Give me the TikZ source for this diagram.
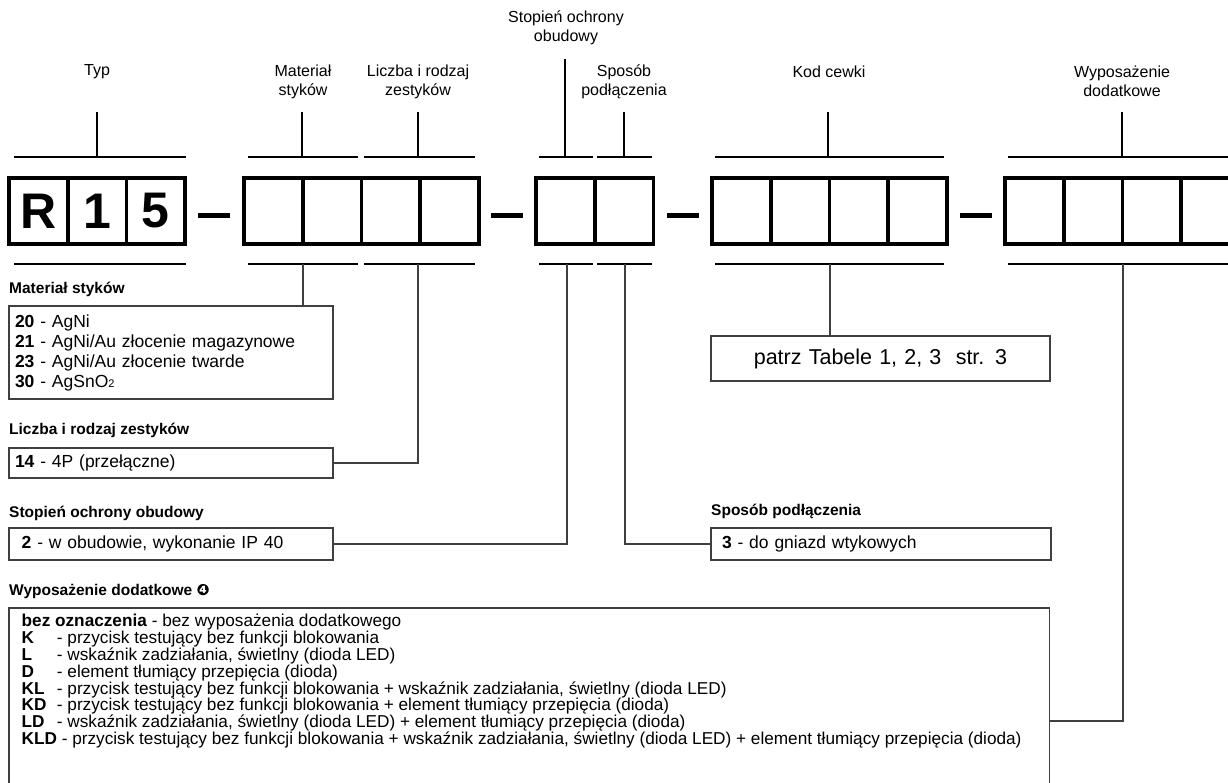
\documentclass[tikz,border=0pt]{standalone}
\usepackage{fontspec}
\setmainfont{Liberation Sans}
\newfontfamily\symfont{DejaVu Sans}
\usetikzlibrary{positioning}
\definecolor{darkline}{RGB}{64,64,64}
\newcommand{\optkey}[1]{\makebox[2.05em][l]{\textbf{#1}}}
\tikzset{
	toplab/.style={align=center,inner sep=0pt,font=\fontsize{16}{19}\selectfont},
	cell/.style={draw,line width=3.8pt,minimum width=58.7pt,minimum height=66pt,inner sep=0pt,font=\fontsize{50}{50}\selectfont\bfseries},
	barline/.style={line width=2pt},
	tickline/.style={line width=1.5pt},
	joiner/.style={line width=5pt},
	conn/.style={draw=darkline,line width=1.4pt},
	heading/.style={anchor=west,inner sep=0pt,font=\fontsize{15.5}{18}\selectfont\bfseries},
	legbox/.style={draw=darkline,line width=1.4pt,anchor=north west,outer sep=0pt,align=left,inner ysep=0pt,font=\fontsize{17.5}{20}\selectfont}
}
\begin{document}
\begin{tikzpicture}[x=1pt,y=-1pt]
		\useasboundingbox (0,0) rectangle (1228,782);
		\clip (0,0) rectangle (1228,782);
		
		% labels above
		\node[toplab] (typ) at (97,72) {Typ};
		\node[toplab] (mat) at (303,81.5) {Materiał\\styków};
		\node[toplab] (liz) at (418,81.5) {Liczba i rodzaj\\zestyków};
		\node[toplab] (stp) at (566,28) {Stopień ochrony\\obudowy};
		\node[toplab] (spo) at (624,81.5) {Sposób\\podłączenia};
		\node[toplab] (kod) at (829,72) {Kod cewki};
		\node[toplab] (wyp) at (1122,81.5) {Wyposażenie\\dodatkowe};
		
		\foreach \x in {97,302,418,624,828,1122}{
			\draw[tickline] (\x,112) -- (\x,157);
		}
		\draw[tickline] (565,59) -- (565,157);
		
		\foreach \a/\b in {14/186,248/358,364/475,539/593,597/652,715/944,1008/1240}{
			\draw[barline] (\a,157) -- (\b,157);
			\draw[barline] (\a,264) -- (\b,264);
		}
		
		% code cells
		\foreach \t[count=\i] in {R,1,5}{
			\node[cell] (typ\i) at ({9+58.7*(\i-0.5)},211) {\t};
		}
		\foreach \i in {1,...,4}{
			\node[cell] (mat\i) at ({244+58.7*(\i-0.5)},211) {};
			\node[cell] (kod\i) at ({712+58.7*(\i-0.5)},211) {};
			\node[cell] (wyp\i) at ({1005+58.7*(\i-0.5)},211) {};
		}
		\foreach \i in {1,2}{
			\node[cell] (stp\i) at ({536+58.7*(\i-0.5)},211) {};
		}
		
		\draw[joiner] (198,215) -- (230,215);
		\draw[joiner] (491,215) -- (523,215);
		\draw[joiner] (667,215) -- (699,215);
		\draw[joiner] (960,215) -- (992,215);
		
		\coordinate (tmat) at (303,264);
		\coordinate (tliz) at (418,264);
		\coordinate (tstp) at (567,264);
		\coordinate (tspo) at (625,264);
		\coordinate (tkod) at (830,264);
		\coordinate (twyp) at (1123,264);
		
		% legend
		\node[heading] (hmat) at (9,289) {Materiał styków};
		\node[legbox,text width=312pt,inner xsep=6pt,minimum height=93pt] (matbox) at (9,306)
			{\textbf{20} - AgNi\\\textbf{21} - AgNi/Au złocenie magazynowe\\\textbf{23} - AgNi/Au złocenie twarde\\\textbf{30} - AgSnO{\fontsize{11}{11}\selectfont 2}};
		
		\node[heading] (hliz) at (9,430) {Liczba i rodzaj zestyków};
		\node[legbox,text width=312pt,inner xsep=6pt,minimum height=30pt] (lizbox) at (9,448)
			{\textbf{14} - 4P (przełączne)};
		
		\node[heading] (hstp) at (9,513) {Stopień ochrony obudowy};
		\node[legbox,text width=298.6pt,inner xsep=12.7pt,minimum height=32pt] (stpbox) at (9,528)
			{\textbf{2} - w obudowie, wykonanie IP 40};
		
		\node[heading] (hspo) at (711,511) {Sposób podłączenia};
		\node[legbox,text width=318pt,inner xsep=11pt,minimum height=32pt] (spobox) at (711,528)
			{\textbf{3} - do gniazd wtykowych};
		
		\node[legbox,align=center,text width=327pt,inner xsep=6pt,minimum height=45pt,font=\fontsize{21.5}{24}\selectfont] (kodbox) at (711,336)
			{patrz Tabele 1, 2, 3\ \ str. 3};
		
		\node[heading] (hwyp) at (9,591) {Wyposażenie dodatkowe {\symfont ❹}};
		\node[legbox,inner xsep=12.7pt,font=\fontsize{17.2}{16.9}\selectfont] (wypbox) at (9,608)
			{\parbox[c][226pt][t]{1015pt}{\vspace{6pt}%
			\textbf{bez oznaczenia} - bez wyposażenia dodatkowego\\
			\optkey{K}- przycisk testujący bez funkcji blokowania\\
			\optkey{L}- wskaźnik zadziałania, świetlny (dioda LED)\\
			\optkey{D}- element tłumiący przepięcia (dioda)\\
			\optkey{KL}- przycisk testujący bez funkcji blokowania + wskaźnik zadziałania, świetlny (dioda LED)\\
			\optkey{KD}- przycisk testujący bez funkcji blokowania + element tłumiący przepięcia (dioda)\\
			\optkey{LD}- wskaźnik zadziałania, świetlny (dioda LED) + element tłumiący przepięcia (dioda)\\
			\textbf{KLD} - przycisk testujący bez funkcji blokowania + wskaźnik zadziałania, świetlny (dioda LED) + element tłumiący przepięcia (dioda)}};
		
		% connectors
		\draw[conn] (tmat) -- (tmat |- matbox.north);
		\draw[conn] (tliz) |- (lizbox.east);
		\draw[conn] (tstp) |- (stpbox.east);
		\draw[conn] (tspo) |- (spobox.west);
		\draw[conn] (tkod) -- (tkod |- kodbox.north);
		\draw[conn] (twyp) |- (wypbox.east);
\end{tikzpicture}
\end{document}
